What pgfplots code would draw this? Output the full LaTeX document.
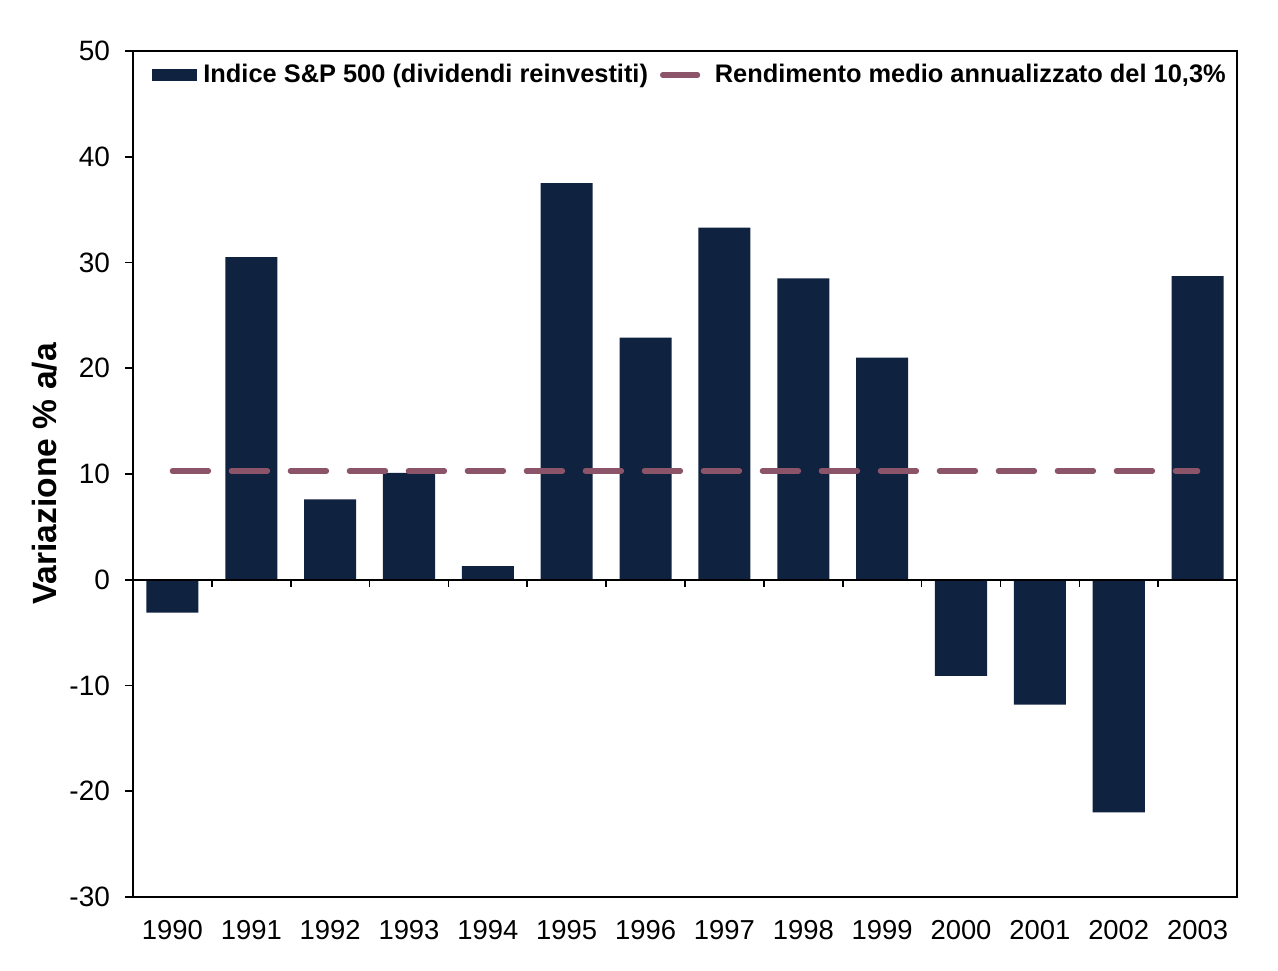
\documentclass[border=0pt]{standalone}
\usepackage{fontspec}
\setmainfont{Liberation Sans}
\usepackage{pgfplots}
\usepackage{pgfplotstable}
\pgfplotsset{compat=1.18}

\definecolor{barblue}{HTML}{0F2240}
\definecolor{avgline}{HTML}{8C5468}

% S&P 500 total return per year (x = 0 for 1990)
\pgfplotstableread{
x ret
0 -3.1
1 30.5
2 7.6
3 10.1
4 1.3
5 37.5
6 22.9
7 33.3
8 28.5
9 21.0
10 -9.1
11 -11.8
12 -22.0
13 28.7
}\spdata

\pgfplotstableread{
x avg
0 10.3
13 10.3
}\avgdata

\begin{document}
\begin{tikzpicture}
% keep the reference's margins (1px = 0.5pt)
\path[use as bounding box] (-66.5pt,-36.5pt) rectangle (572.5pt,448.5pt);
\begin{axis}[
    at={(0,0)}, anchor=south west,
    scale only axis,
    width=552pt, height=423pt,
    xmin=-0.5, xmax=13.5,
    ymin=-30, ymax=50,
    ytick={-30,-20,...,50},
    ytick pos=left,
    yticklabel style={font=\fontsize{14}{16}\selectfont, xshift=-4pt},
    /pgf/number format/assume math mode=true,
    xtick={0,...,13},
    xticklabels={1990,1991,1992,1993,1994,1995,1996,1997,1998,1999,2000,2001,2002,2003},
    xticklabel style={font=\fontsize{13.7}{16}\selectfont, yshift=-4pt},
    x tick style={draw=none},
    tick align=outside,
    major tick length=4pt,
    tick style={black, line width=0.8pt},
    axis line style={line width=0.9pt},
    ylabel={Variazione \% a/a},
    ylabel style={font=\fontsize{16.8}{19}\selectfont\bfseries,
        at={(axis description cs:-0.0797,0.5)}, anchor=center},
    legend columns=2,
    legend style={draw=none, fill=none, inner sep=0pt,
        at={(axis description cs:0.0172,0.9716)}, anchor=west,
        font=\fontsize{12.7}{15}\selectfont\bfseries,
        nodes={inner sep=0pt},
        /tikz/every odd column/.append style={column sep=3pt},
        /tikz/every even column/.append style={column sep=6pt}},
]
\addplot[ybar, bar width=0.66, bar shift=0pt, fill=barblue, draw=none,
    legend image code/.code={\fill[barblue] (0pt,-3pt) rectangle (22.5pt,3pt);}]
    table[x=x, y=ret] {\spdata};
\addlegendentry{Indice S\&P 500 (dividendi reinvestiti)}
\addplot[avgline, line width=2.7pt, line cap=round,
    dash pattern=on 18pt off 11.5pt,
    legend image code/.code={\draw[avgline, line width=2.7pt, line cap=round] (1.3pt,0) -- (18.7pt,0); \path (23pt,0);}]
    table[x=x, y=avg] {\avgdata};
\addlegendentry{Rendimento medio annualizzato del 10,3\%}
\end{axis}
% zero line with ticks at category boundaries
\begin{axis}[
    at={(0,0)}, anchor=south west,
    scale only axis,
    width=552pt, height=423pt,
    xmin=-0.5, xmax=13.5,
    ymin=-30, ymax=50,
    axis x line=middle,
    axis y line=none,
    x axis line style={-, line width=0.9pt},
    xtick={0.5,1.5,...,12.5},
    xticklabels={},
    xtick align=outside,
    major tick length=3.5pt,
    tick style={black, line width=0.8pt},
]
\end{axis}
\end{tikzpicture}
\end{document}
